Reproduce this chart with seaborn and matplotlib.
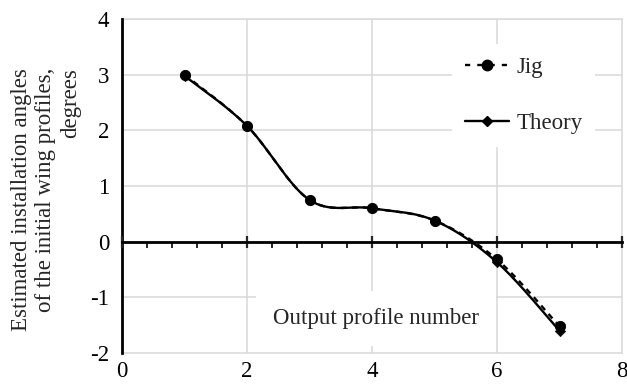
import numpy as np
import pandas as pd
import matplotlib
matplotlib.use("Agg")
import matplotlib.pyplot as plt
from matplotlib.lines import Line2D
from matplotlib.ticker import MultipleLocator
import seaborn as sns

# ---- data ----
profile = [1, 2, 3, 4, 5, 6, 7]
jig = [3.00, 2.08, 0.75, 0.60, 0.38, -0.32, -1.52]
theory = [2.98, 2.08, 0.75, 0.60, 0.38, -0.37, -1.60]
x_ticks = [0, 2, 4, 6, 8]
y_ticks = [-2, -1, 0, 1, 2, 3, 4]
series_names = ["Jig", "Theory"]
x_label = "Output profile number"
y_label = "Estimated installation angles\nof the initial wing profiles,\ndegrees"

sns.set_theme(style="white")
plt.rcParams["font.family"] = ["Liberation Serif", "DejaVu Serif"]
plt.rcParams["axes.unicode_minus"] = False
FS = 16.5


def smooth(xs, ys, n=40):
    """Excel-like smoothed line (Catmull-Rom Bezier) through the points."""
    p = np.column_stack([xs, ys]).astype(float)
    ext = np.vstack([p[0], p, p[-1]])
    out = []
    t = np.linspace(0, 1, n)[:, None]
    for i in range(1, len(ext) - 2):
        p0, p1, p2, p3 = ext[i - 1], ext[i], ext[i + 1], ext[i + 2]
        c1 = p1 + (p2 - p0) / 6.0
        c2 = p2 - (p3 - p1) / 6.0
        seg = ((1 - t) ** 3) * p1 + 3 * ((1 - t) ** 2) * t * c1 + 3 * (1 - t) * t ** 2 * c2 + t ** 3 * p2
        out.append(seg if i == 1 else seg[1:])
    out = np.vstack(out)
    return pd.DataFrame({"x": out[:, 0], "y": out[:, 1]})


fig = plt.figure(figsize=(6.27, 3.88), dpi=100)
ax = fig.add_axes([122 / 627, 1 - 353 / 388, 500 / 627, 334 / 388])

grid_c = "#d9d9d9"
ax.set_xlim(0, 8)
ax.set_ylim(-2, 4)
ax.set_xticks(x_ticks)
ax.set_yticks(y_ticks)
for yy in y_ticks[1:]:
    ax.axhline(yy, color=grid_c, lw=1.1, zorder=0)
for xx in x_ticks[1:-1]:
    ax.axvline(xx, color=grid_c, lw=1.1, zorder=0)

# curves
th = smooth(profile, theory)
jg = smooth(profile, jig)
sns.lineplot(data=th, x="x", y="y", sort=False, estimator=None, color="black", lw=1.7, ax=ax, zorder=3)
sns.lineplot(data=jg, x="x", y="y", sort=False, estimator=None, color="black", lw=1.7, ax=ax, zorder=4)
ax.lines[-1].set_dashes((2.5, 2.2))
sns.scatterplot(x=profile, y=theory, marker="D", s=28, color="black", edgecolor="black", ax=ax, zorder=5)
sns.scatterplot(x=profile, y=jig, marker="o", s=55, color="black", edgecolor="black", ax=ax, zorder=6)

# frame
for s in ["top", "right", "bottom"]:
    ax.spines[s].set_color(grid_c)
    ax.spines[s].set_linewidth(1.1)
ax.spines["left"].set_color("black")
ax.spines["left"].set_linewidth(2)
ax.spines["left"].set_zorder(7)
ax.tick_params(axis="x", length=0, pad=6, labelsize=FS, colors="black")
ax.tick_params(axis="y", direction="out", length=5, width=1.5, pad=4, labelsize=FS, colors="black")
ax.set_xlabel("")
ax.set_ylabel("")

# zero axis
sec = ax.secondary_xaxis(2 / 6)
sec.set_xticks(x_ticks)
sec.xaxis.set_minor_locator(MultipleLocator(0.4))
sec.xaxis.set_ticks_position("bottom")
sec.tick_params(which="major", direction="inout", length=9, width=1.6, labelbottom=False, labeltop=False)
sec.tick_params(which="minor", direction="out", length=4, width=1.4)
sec.spines["bottom"].set_linewidth(2)
sec.spines["bottom"].set_color("black")
sec.set_zorder(7)

# x label inside plot
ax.text(4.06, -1.38, x_label, ha="center", va="center", fontsize=FS, zorder=8,
        bbox=dict(boxstyle="square,pad=0.75", facecolor="white", edgecolor="none"))

# y label
fig.text(46 / 627, 1 - 68 / 388, y_label, rotation=90, ha="center", va="top",
         multialignment="right", fontsize=FS, linespacing=1.2)

# legend
handles = [
    Line2D([], [], color="black", lw=1.7, dashes=(2.2, 3.0), marker="o", markersize=7.5),
    Line2D([], [], color="black", lw=1.7, marker="D", markersize=5),
]
leg = ax.legend(handles, series_names, loc="upper left",
                bbox_to_anchor=((452 - 122) / 500, 1 - (44 - 19) / 334),
                frameon=True, facecolor="white", edgecolor="none", framealpha=1, fontsize=FS,
                handlelength=1.95, handletextpad=0.3, labelspacing=1.55, borderpad=0.55, borderaxespad=0)
leg.set_zorder(8)

fig.savefig("out.png", dpi=100)
